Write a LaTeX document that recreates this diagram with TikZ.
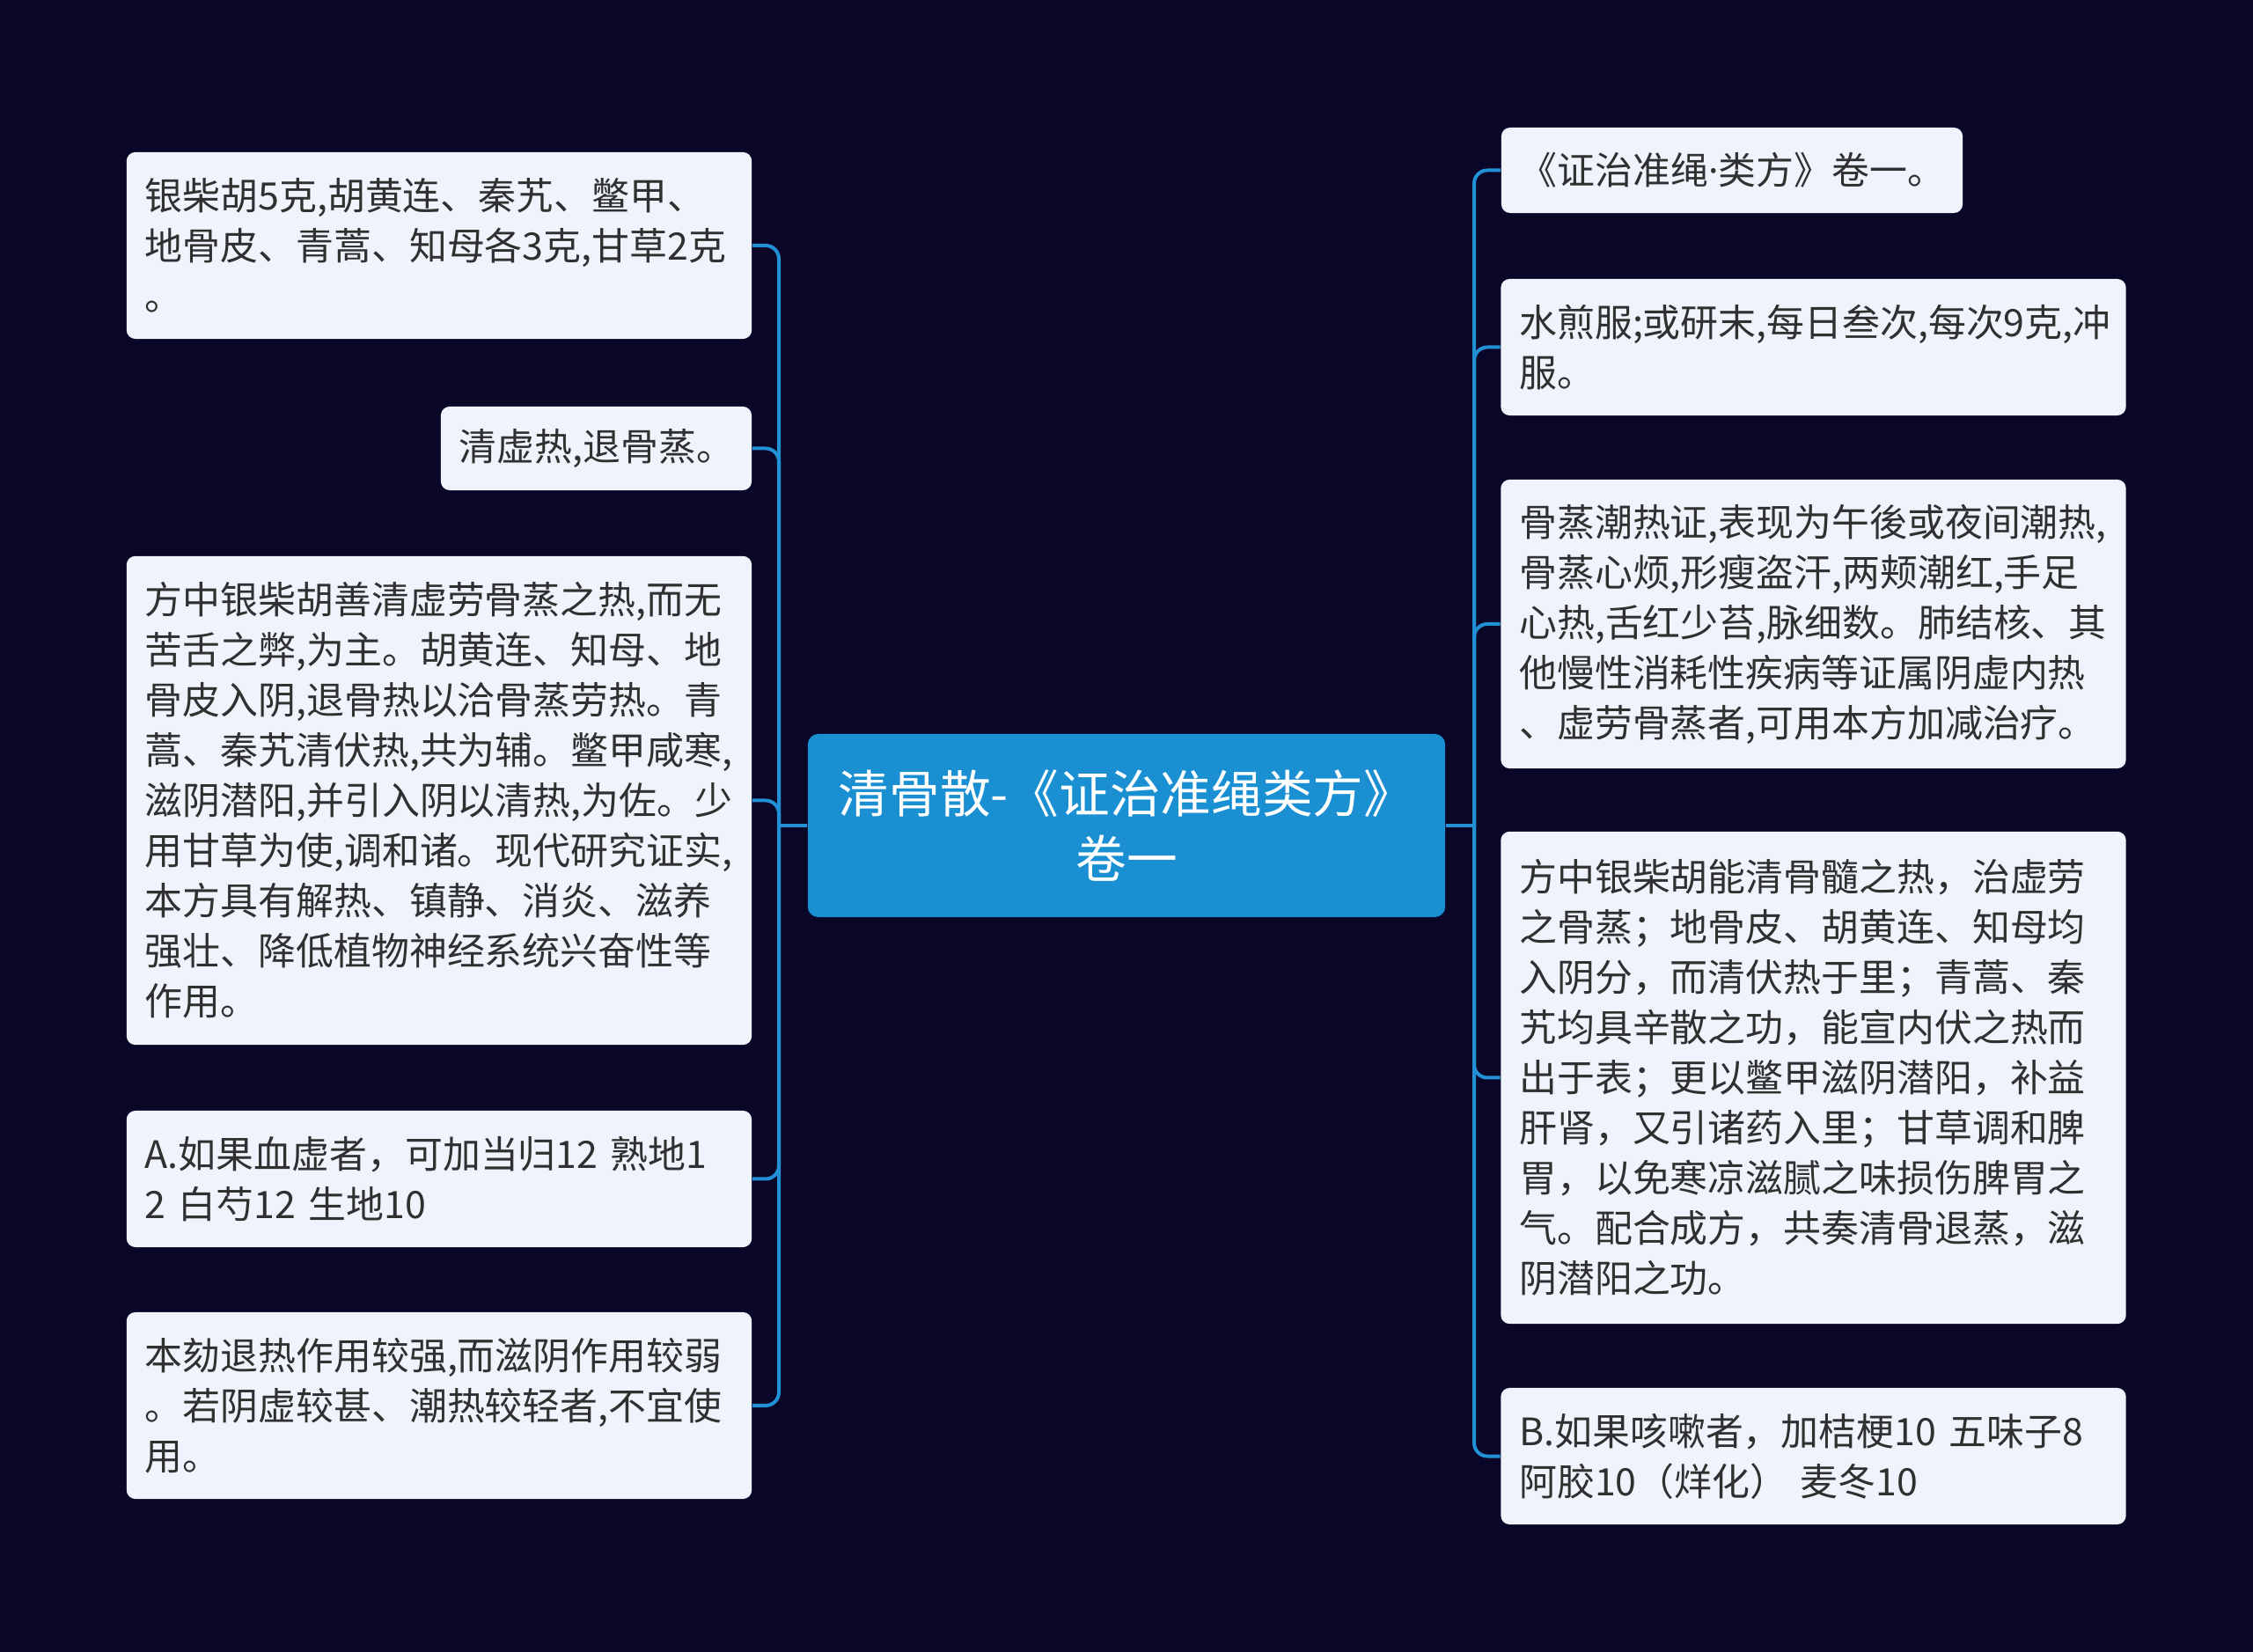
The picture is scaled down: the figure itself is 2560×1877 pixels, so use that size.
\documentclass[tikz,border=0pt]{standalone}
\usepackage{fontspec}
\setmainfont{Noto Sans CJK SC}
\newfontfamily\dotfont{Noto Sans}
\definecolor{bgc}{HTML}{0A0628}
\definecolor{leafc}{HTML}{EEF3FC}
\definecolor{inkc}{HTML}{303030}
\definecolor{rootc}{HTML}{1A90D3}
\definecolor{linkc}{HTML}{2290D4}

\begin{document}
\begin{tikzpicture}[x=0.01cm,y=-0.01cm,
  leaf/.style={fill=leafc,rounded corners=1mm,text=inkc,align=left,
    text width=66.8mm,inner xsep=2.1mm,inner ysep=0pt,
    font=\fontsize{12.2}{16.2}\selectfont},
  root/.style={fill=rootc,rounded corners=1.2mm,text=white,align=center,
    minimum width=72.4mm,minimum height=20.8mm,inner sep=0pt,
    font=\fontsize{16.4}{21.3}\selectfont},
  link/.style={draw=linkc,line width=0.4mm,rounded corners=1.5mm}]
   \fill[bgc] (0,0) rectangle (2560,1877);
   % centre
   \node[root] (root) at (1280,938) {清骨散-《证治准绳类方》\\卷一};
   % left side
   \node[leaf,minimum height=21.2mm] (l_1) at (499,279)
     {银柴胡5克,胡黄连、秦艽、鳖甲、\\地骨皮、青蒿、知母各3克,甘草2克\\。};
   \node[leaf,minimum height=9.5mm,text width=31.1mm] (l_2) at (677.5,509.5)
     {清虚热,退骨蒸。};
   \node[leaf,minimum height=55.5mm] (l_3) at (499,909.5)
     {方中银柴胡善清虚劳骨蒸之热,而无\\苦舌之弊,为主。胡黄连、知母、地\\骨皮入阴,退骨热以洽骨蒸劳热。青\\蒿、秦艽清伏热,共为辅。鳖甲咸寒,\\滋阴潜阳,并引入阴以清热,为佐。少\\用甘草为使,调和诸。现代研究证实,\\本方具有解热、镇静、消炎、滋养\\强壮、降低植物神经系统兴奋性等\\作用。};
   \node[leaf,minimum height=15.5mm] (l_4) at (499,1339.5)
     {A.如果血虚者，可加当归12~熟地1\\2~白芍12~生地10};
   \node[leaf,minimum height=21.2mm] (l_5) at (499,1597)
     {本劾退热作用较强,而滋阴作用较弱\\。若阴虚较甚、潮热较轻者,不宜使\\用。};
   % right side
   \node[leaf,minimum height=9.7mm,text width=48.2mm] (r_1) at (1968,193.5)
     {《证治准绳{\dotfont ·}类方》卷一。};
   \node[leaf,minimum height=15.5mm] (r_2) at (2060.5,394.5)
     {水煎服;或研末,每日叁次,每次9克,冲\\服。};
   \node[leaf,minimum height=32.8mm] (r_3) at (2060.5,709)
     {骨蒸潮热证,表现为午後或夜间潮热,\\骨蒸心烦,形瘦盗汗,两颊潮红,手足\\心热,舌红少苔,脉细数。肺结核、其\\他慢性消耗性疾病等证属阴虚内热\\、虚劳骨蒸者,可用本方加减治疗。};
   \node[leaf,minimum height=55.9mm] (r_4) at (2060.5,1224.5)
     {方中银柴胡能清骨髓之热，治虚劳\\之骨蒸；地骨皮、胡黄连、知母均\\入阴分，而清伏热于里；青蒿、秦\\艽均具辛散之功，能宣内伏之热而\\出于表；更以鳖甲滋阴潜阳，补益\\肝肾，又引诸药入里；甘草调和脾\\胃，以免寒凉滋腻之味损伤脾胃之\\气。配合成方，共奏清骨退蒸，滋\\阴潜阳之功。};
   \node[leaf,minimum height=15.5mm] (r_5) at (2060.5,1654.5)
     {B.如果咳嗽者，加桔梗10~五味子8\\阿胶10（烊化）~麦冬10};
   % connectors
   \coordinate (lj) at (885,938);
   \coordinate (rj) at (1675,938);
   \draw[link] (root.west) -- (lj);
   \draw[link] (root.east) -- (rj);
   \foreach \n in {l_1,l_2,l_3,l_4,l_5}
     \draw[link] (lj) |- (\n.east);
   \foreach \n in {r_1,r_2,r_3,r_4,r_5}
     \draw[link] (rj) |- (\n.west);
\end{tikzpicture}
\end{document}
